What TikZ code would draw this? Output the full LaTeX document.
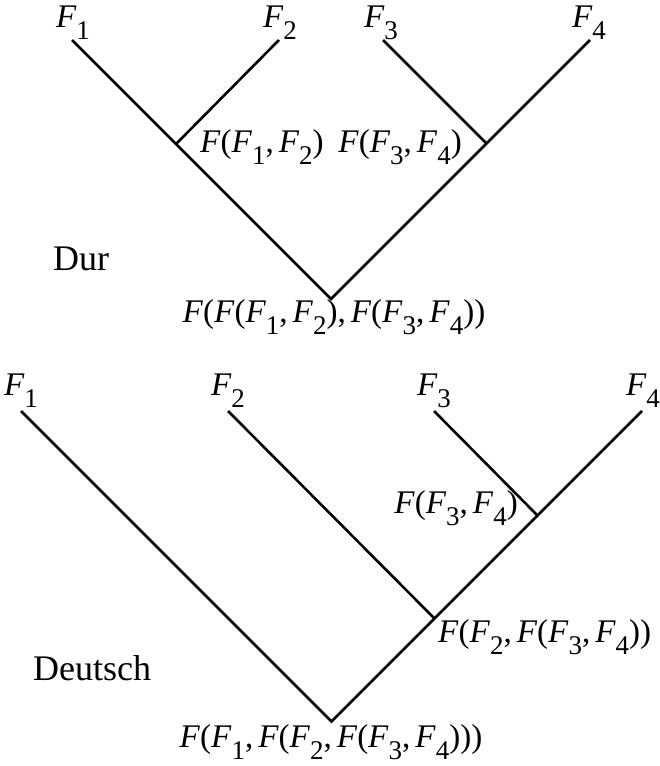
\documentclass[tikz,border=0pt]{standalone}
\usepackage{fontspec}
\setmainfont{Liberation Serif}
\newcommand\sbs[1]{\raisebox{-0.38em}{\fontsize{27}{27}\selectfont #1}}
\newcommand\Fv{\textit{F}}
\newcommand\Fs[1]{\textit{F}\sbs{#1}}
\newcommand\cm{,\hspace{0.15em}}
\tikzset{
  branch/.style={line width=2.6pt},
  lbl/.style={inner sep=0pt, font=\fontsize{33}{38}\selectfont},
  ttl/.style={inner sep=0pt, anchor=base west, font=\fontsize{36}{42}\selectfont},
}
\begin{document}
\begin{tikzpicture}[x=1pt,y=-1pt]
\useasboundingbox (0,0) rectangle (660,766);
% ---- Dur tree ----
\coordinate (a1) at (72,40);
\coordinate (a2) at (279,40);
\coordinate (a3) at (383,40);
\coordinate (a4) at (590,40);
\coordinate (a12) at (176.5,143.5);
\coordinate (a34) at (486.5,143.5);
\coordinate (ar) at (331,299);
\draw[branch] (a1) -- (ar) -- (a4);
\draw[branch] (a2) -- (a12);
\draw[branch] (a3) -- (a34);
\node[lbl,anchor=base] (la1) at (73,27) {\Fs1};
\node[lbl,anchor=base] (la2) at (280,27) {\Fs2};
\node[lbl,anchor=base] (la3) at (381,27) {\Fs3};
\node[lbl,anchor=base] (la4) at (589,27) {\Fs4};
\node[lbl,anchor=base west] (la12) at (200,152) {\Fv(\Fs1\cm\Fs2)};
\node[lbl,anchor=base east] (la34) at (462,152) {\Fv(\Fs3\cm\Fs4)};
\node[lbl,anchor=base] (lar) at (334,322) {\Fv(\Fv(\Fs1\cm\Fs2)\cm\Fv(\Fs3\cm\Fs4))};
\node[ttl] (dur) at (53,270) {Dur};
% ---- Deutsch tree ----
\coordinate (b1) at (21,411);
\coordinate (b2) at (228,411);
\coordinate (b3) at (434,411);
\coordinate (b4) at (642,411);
\coordinate (b34) at (537.5,515.5);
\coordinate (b234) at (434.5,618.5);
\coordinate (br) at (331.5,721.5);
\draw[branch] (b1) -- (br) -- (b4);
\draw[branch] (b2) -- (b234);
\draw[branch] (b3) -- (b34);
\node[lbl,anchor=base] (lb1) at (21,395) {\Fs1};
\node[lbl,anchor=base] (lb2) at (228,395) {\Fs2};
\node[lbl,anchor=base] (lb3) at (434,395) {\Fs3};
\node[lbl,anchor=base] (lb4) at (643,395) {\Fs4};
\node[lbl,anchor=base east] (lb34) at (518,513) {\Fv(\Fs3\cm\Fs4)};
\node[lbl,anchor=base west] (lb234) at (438,642) {\Fv(\Fs2\cm\Fv(\Fs3\cm\Fs4))};
\node[lbl,anchor=base] (lbr) at (331,747) {\Fv(\Fs1\cm\Fv(\Fs2\cm\Fv(\Fs3\cm\Fs4)))};
\node[ttl] (deu) at (33,680) {Deutsch};
\end{tikzpicture}
\end{document}
